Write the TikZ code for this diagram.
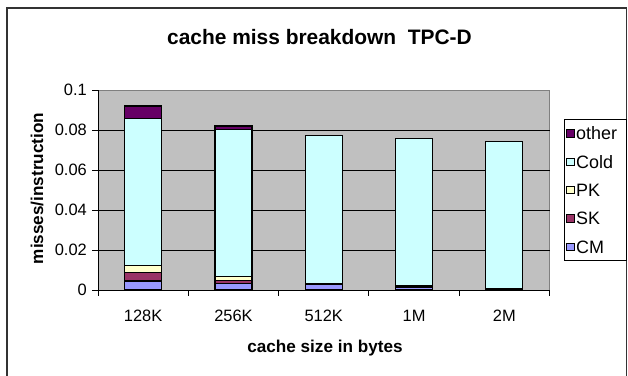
\documentclass[tikz,border=0pt]{standalone}
\usepackage{fontspec}
\setmainfont{Liberation Sans}
\definecolor{plotgray}{HTML}{C0C0C0}
\definecolor{plotedge}{HTML}{808080}
\definecolor{framecol}{HTML}{333333}
\definecolor{othercol}{HTML}{660066}
\definecolor{coldcol}{HTML}{CCFFFF}
\definecolor{pkcol}{HTML}{FFFFCC}
\definecolor{skcol}{HTML}{993366}
\definecolor{cmcol}{HTML}{9999FF}
\tikzset{
  barseg/.style={draw=black, line width=1.1bp},
  grid line/.style={draw=black, line width=0.9bp},
  axis line/.style={draw=black, line width=0.9bp},
  ticklab/.style={font=\fontsize{16.5}{16.5}\selectfont, inner sep=0pt},
  axtitle/.style={font=\fontsize{17.2}{17.2}\selectfont\bfseries, inner sep=0pt},
  legtext/.style={font=\fontsize{18}{18}\selectfont, anchor=west, inner sep=0pt},
  legmark/.style={draw=black, line width=0.8bp, minimum size=7.5bp, inner sep=0pt},
}
\begin{document}
\begin{tikzpicture}[x=1bp, y=-1bp]
\useasboundingbox (0,0) rectangle (628,375);
% outer chart frame
\draw[framecol, line width=1.4bp] (7,380) -- (7,8) -- (626.5,8) -- (626.5,380);
% title
\node[font=\fontsize{21}{21}\selectfont\bfseries, inner sep=0pt] (title) at (319.5,37) {cache miss breakdown\ \ TPC-D};
% plot area
\fill[plotgray] (98,90) rectangle (549.5,290);
\draw[plotedge, line width=1bp] (98,90) -- (549.5,90) -- (549.5,290);
\foreach \v in {0.02,0.04,0.06,0.08}
  \draw[grid line] (98,{290-2000*\v}) -- (549.5,{290-2000*\v});
% stacked bars: CM, SK, PK, Cold, other (cumulative tops)
\foreach \i/\a/\b/\c/\d/\e/\lab in {
    0/.0045/.0088/.0122/.0858/.0920/128K,
    1/.0033/.0049/.0068/.0803/.0820/256K,
    2/.0027/.0030/.0034/.0772/.0773/512K,
    3/.0012/.0019/.0023/.0758/.0759/1M,
    4/.0002/.0004/.0006/.0743/.0744/2M} {
  \pgfmathsetmacro\xc{98+45.15+\i*90.3}
  \draw[barseg, fill=cmcol]    (\xc-18.5,290) rectangle (\xc+18.5,{290-2000*\a});
  \draw[barseg, fill=skcol]    (\xc-18.5,{290-2000*\a}) rectangle (\xc+18.5,{290-2000*\b});
  \draw[barseg, fill=pkcol]    (\xc-18.5,{290-2000*\b}) rectangle (\xc+18.5,{290-2000*\c});
  \draw[barseg, fill=coldcol]  (\xc-18.5,{290-2000*\c}) rectangle (\xc+18.5,{290-2000*\d});
  \draw[barseg, fill=othercol] (\xc-18.5,{290-2000*\d}) rectangle (\xc+18.5,{290-2000*\e});
  \node[ticklab] (xl\i) at (\xc,316) {\lab};
}
% axes and ticks
\draw[axis line] (98,90) -- (98,290) -- (549.5,290);
\foreach \v/\t [count=\k] in {0/0,0.02/0.02,0.04/0.04,0.06/0.06,0.08/0.08,0.1/0.1} {
  \draw[axis line] (92,{290-2000*\v}) -- (98,{290-2000*\v});
  \node[ticklab, anchor=east] (yl\k) at (87,{290-2000*\v}) {\t};
}
\foreach \i in {0,...,5}
  \draw[axis line] ({98+\i*90.3},290) -- ({98+\i*90.3},296);
% axis titles
\node[axtitle, rotate=90] (ytitle) at (37,188.5) {misses/instruction};
\node[axtitle] (xtitle) at (325,348) {cache size in bytes};
% legend
\node[draw=black, line width=0.9bp, fill=white, minimum width=61.5bp, minimum height=141.5bp, inner sep=0pt] (legend) at (595.3,190) {};
\foreach \col/\name [count=\k] in {othercol/other, coldcol/Cold, pkcol/PK, skcol/SK, cmcol/CM} {
  \node[legmark, fill=\col] (m\k) at (570.3,{133.3+(\k-1)*28.4}) {};
  \node[legtext] (t\k) at (576,{133.3+(\k-1)*28.4}) {\name};
}
\end{tikzpicture}
\end{document}
